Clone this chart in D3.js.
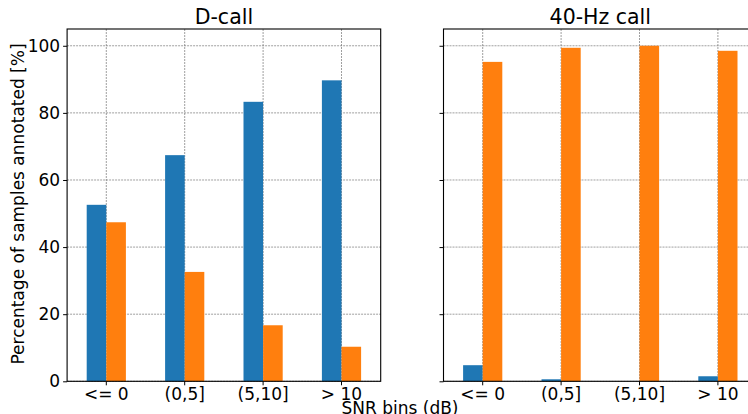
<!DOCTYPE html>
<html><head><meta charset="utf-8">
<script src="https://cdn.jsdelivr.net/npm/d3@7"></script>
<style>body{margin:0;background:#fff;}svg{display:block;font-family:"DejaVu Sans",sans-serif;}</style>
</head><body><svg id="c" width="748" height="414"></svg>
<script>
const categories = ["<= 0", "(0,5]", "(5,10]", "> 10"];
const seriesNames = ["0", "1"];
const dcallBlue = [52.6, 67.4, 83.3, 89.7];
const dcallOrange = [47.4, 32.6, 16.7, 10.3];
const hzBlue = [4.8, 0.6, 0.0, 1.5];
const hzOrange = [95.2, 99.4, 100.0, 98.5];
const yTicks = [0, 20, 40, 60, 80, 100];
const titles = ["D-call", "40-Hz call"];
const colors = ["#1f77b4", "#ff7f0e"];

(function () {
const svg = d3.select("#c");
const plotTop = 29, plotBottom = 381.3;
const y = d3.scaleLinear().domain([0, 105]).range([plotBottom, plotTop]);
const panels = [
  {left: 67.1, right: 380.7, data: [dcallBlue, dcallOrange], title: titles[0], labels: true},
  {left: 443.5, right: 757.1, data: [hzBlue, hzOrange], title: titles[1], labels: false}
];
const gridColor = "#777";
panels.forEach(p => {
  const x = d3.scaleLinear().domain([-0.5, 3.5]).range([p.left, p.right]);
  const g = svg.append("g");
  yTicks.forEach(t => g.append("line").attr("x1", p.left).attr("x2", p.right)
    .attr("y1", y(t)).attr("y2", y(t)).attr("stroke", gridColor).attr("stroke-width", 0.7).attr("stroke-dasharray", "2,1"));
  categories.forEach((c, i) => g.append("line").attr("x1", x(i)).attr("x2", x(i))
    .attr("y1", plotTop).attr("y2", plotBottom).attr("stroke", gridColor).attr("stroke-width", 0.7).attr("stroke-dasharray", "2,1"));
  const bw = 0.25;
  p.data.forEach((vals, s) => {
    g.selectAll(null).data(vals).enter().append("rect")
      .attr("x", (d, i) => x(i - bw + s * bw))
      .attr("width", x(bw) - x(0))
      .attr("y", d => y(d))
      .attr("height", d => y(0) - y(d))
      .attr("fill", colors[s]);
  });
  g.append("rect").attr("x", p.left).attr("y", plotTop).attr("width", p.right - p.left).attr("height", plotBottom - plotTop)
    .attr("fill", "none").attr("stroke", "#000").attr("stroke-width", 1.1);
  const ya = d3.axisLeft(y).tickValues(yTicks).tickSize(4).tickPadding(3).tickFormat(p.labels ? d3.format("d") : () => "");
  const yg = g.append("g").attr("transform", `translate(${p.left},0)`).call(ya);
  yg.select(".domain").remove();
  yg.selectAll("text").attr("font-size", 17).attr("font-family", "DejaVu Sans").attr("fill", "#000");
  const xb = d3.scaleBand().domain(categories).range([x(-0.5), x(3.5)]).padding(0);
  const xa = d3.axisBottom(xb).tickSize(4).tickPadding(3);
  const xg = g.append("g").attr("transform", `translate(0,${plotBottom})`).call(xa);
  xg.select(".domain").remove();
  xg.selectAll("text").attr("font-size", 17).attr("font-family", "DejaVu Sans").attr("fill", "#000");
  g.append("text").attr("x", (p.left + p.right) / 2).attr("y", 24).attr("text-anchor", "middle")
    .attr("font-size", 20.5).text(p.title);
});
svg.append("text").attr("transform", "translate(24,204) rotate(-90)").attr("text-anchor", "middle")
  .attr("font-size", 17).text("Percentage of samples annotated [%]");
svg.append("text").attr("x", 400).attr("y", 414).attr("text-anchor", "middle")
  .attr("font-size", 17).text("SNR bins (dB)");
})();
</script></body></html>
